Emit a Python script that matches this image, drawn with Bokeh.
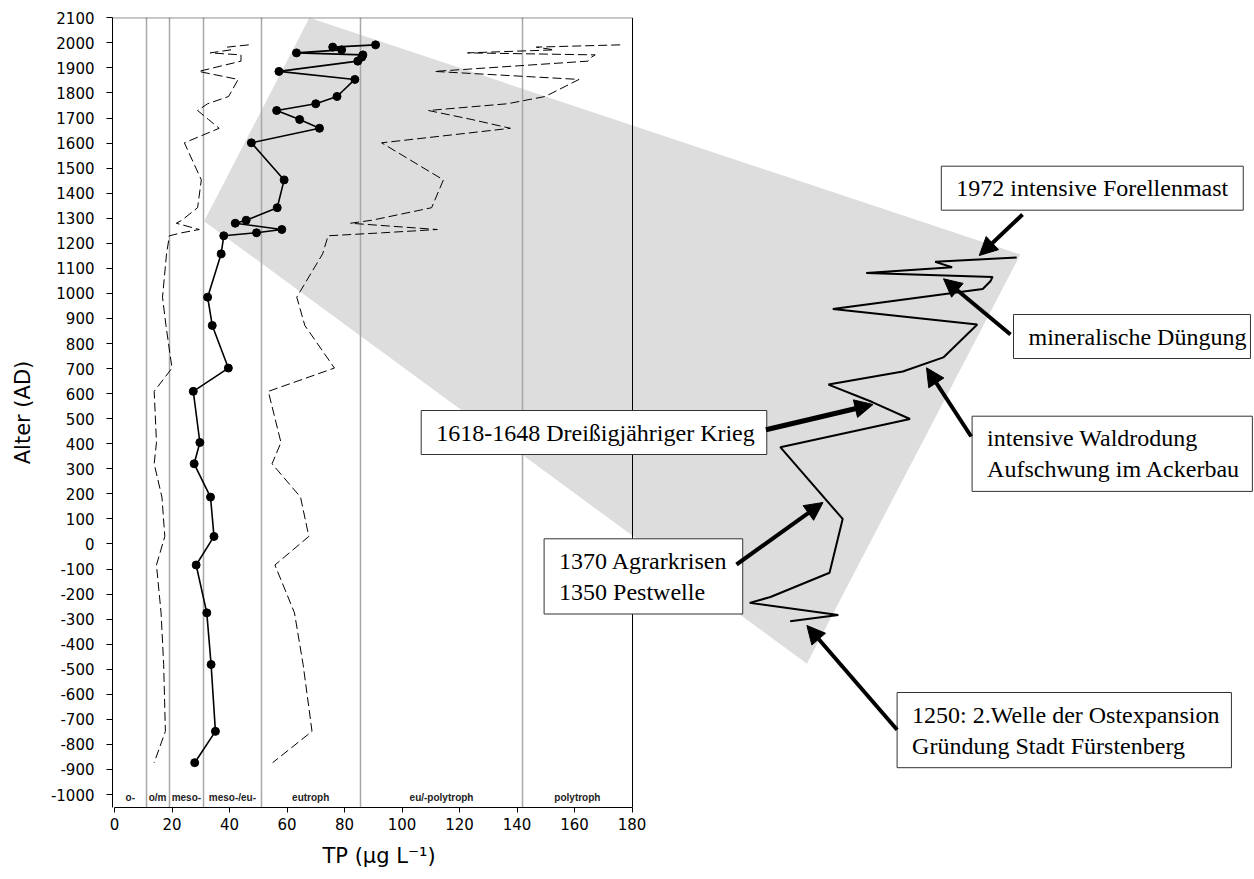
from bokeh.plotting import figure
from bokeh.models import Range1d, FixedTicker, Label, Arrow, NormalHead, PrintfTickFormatter
from bokeh.core.properties import value
from bokeh.embed import file_html
from bokeh.resources import INLINE

# ---------------- data ----------------
ages = [1992, 1983, 1972, 1960, 1952, 1943, 1927, 1886, 1854, 1786,
        1757, 1730, 1694, 1659, 1601, 1453, 1342, 1292, 1280, 1255,
        1242, 1230, 1158, 985, 872, 702, 609, 405, 320, 187,
        30, -84, -275, -481, -748, -873]
tp_mean = [90.8, 75.9, 79.0, 63.3, 86.4, 86.0, 84.6, 57.2, 83.6, 77.4,
           70.0, 56.4, 64.4, 71.3, 47.6, 59.0, 56.6, 45.8, 42.0, 58.2,
           49.4, 38.0, 37.1, 32.4, 34.0, 39.6, 27.4, 29.7, 27.7, 33.4,
           34.6, 28.4, 32.1, 33.6, 35.1, 27.9]
tp_low = [46.7, 39.2, 40.5, 33.3, 44.0, 44.0, 44.0, 29.3, 43.0, 39.7,
          32.4, 28.9, 32.7, 36.4, 24.3, 30.2, 28.9, 23.4, 21.5, 29.5,
          23.4, 19.1, 18.1, 16.7, 17.9, 20.0, 13.8, 14.6, 13.8, 16.5,
          17.5, 14.6, 16.2, 17.1, 17.7, 13.8]
tp_high = [175.9, 146.7, 152.9, 122.8, 167.2, 165.9, 164.7, 111.3, 161.6, 149.8,
           136.7, 109.2, 124.3, 137.7, 92.9, 114.4, 110.3, 89.5, 82.1, 112.3,
           93.3, 74.3, 72.4, 63.4, 66.2, 76.5, 53.5, 57.9, 54.8, 64.7,
           67.6, 55.8, 62.6, 65.6, 68.7, 55.0]
trophic_bounds = [11, 19, 31, 51, 85.5, 142]
trophic_labels = ["o-", "o/m", "meso-", "meso-/eu-", "eutroph", "eu/-polytroph", "polytroph"]
x_ticks = [0, 20, 40, 60, 80, 100, 120, 140, 160, 180]
y_ticks = list(range(-1000, 2101, 100))
inset_first_age = 1242
x_title = "TP (µg L\u207b\u00b9)"
y_title = "Alter (AD)"
events = ["1972 intensive Forellenmast",
          "mineralische Düngung",
          "intensive Waldrodung\nAufschwung im Ackerbau",
          "1618-1648 Dreißigjähriger Krieg",
          "1370 Agrarkrisen\n1350 Pestwelle",
          "1250: 2.Welle der Ostexpansion\nGründung Stadt Fürstenberg"]

# ---------------- layout ----------------
W, H = 1254, 879
ML, MT, MB = 112, 17, 72
XS = 2.875          # px per TP unit
YS = 0.25055        # px per year
X0 = -2 / XS
Y1 = 2100 + 0.3 / YS
X_MAX = 180
frame_w = W - ML
frame_h = H - MT - MB


def pos(X, Y):
    """reference pixel -> data coordinates"""
    return X0 + (X - ML) / XS, Y1 - (Y - MT) / YS


p = figure(width=W, height=H, output_backend="svg", toolbar_location=None,
           x_range=Range1d(X0, X0 + frame_w / XS),
           y_range=Range1d(Y1 - frame_h / YS, Y1))
p.min_border = 0
p.min_border_left = ML
p.min_border_top = MT
p.min_border_bottom = MB
p.min_border_right = 0
p.xgrid.visible = False
p.ygrid.visible = False
p.outline_line_color = None
p.background_fill_color = "white"

# x-axis title as a below-title, centred under the 0-180 axis
p.title_location = "below"
p.title.text = x_title
p.title.align = "left"
p.title.offset = 210
p.title.standoff = 18
p.title.text_font = "DejaVu Sans"
p.title.text_font_size = "21px"
p.title.text_font_style = "normal"
p.title.text_color = "black"

# magnifier polygon
poly = [pos(308.9, 17.3), pos(1019.8, 254), pos(806.4, 663.3), pos(203.6, 220.7)]
p.patch([q[0] for q in poly], [q[1] for q in poly], fill_color="#dddddd", line_color=None)

# trophic class boundaries and frame
p.vspan(x=trophic_bounds, line_color="#a8a8a8", line_width=1.5)
p.vspan(x=[X_MAX], line_color="black", line_width=1)
p.segment(x0=[X0], y0=[2100], x1=[X_MAX], y1=[2100], line_color="#555555", line_width=1)

# dashed bounds
p.line(tp_low, ages, line_color="black", line_width=1, line_dash="9 4")
p.line(tp_high, ages, line_color="black", line_width=1, line_dash="9 4")
# main series
p.line(tp_mean, ages, line_color="black", line_width=1.6)
p.scatter(tp_mean, ages, size=8, fill_color="black", line_color="black")

# magnified inset copy of the recent part of the series
IX0, ISX, IY0, ISY = 141.0, 1.903, 1143.3, 1.936
ins = [(IX0 + ISX * t, IY0 - ISY * (ages[0] - a)) for t, a in zip(tp_mean, ages) if a >= inset_first_age]
p.line([q[0] for q in ins], [q[1] for q in ins], line_color="black", line_width=2)

# trophic class labels
edges = [0] + trophic_bounds + [X_MAX]
mids = [(edges[i] + edges[i + 1]) / 2 for i in range(len(trophic_labels))]
label_y = pos(0, 797)[1]
p.text(x=mids, y=[label_y] * len(mids), text=trophic_labels,
       text_font=value("Liberation Sans"), text_font_style="bold", text_font_size="10px",
       text_color="#222222", text_align="center", text_baseline="middle")

# axes
for ax in p.xaxis:
    ax.ticker = FixedTicker(ticks=x_ticks)
    ax.bounds = (0, X_MAX)
    ax.major_tick_out = 5
    ax.major_tick_in = 0
    ax.minor_tick_out = 0
    ax.minor_tick_in = 0
    ax.major_label_standoff = 5
for ax in p.yaxis:
    ax.ticker = FixedTicker(ticks=y_ticks)
    ax.formatter = PrintfTickFormatter(format="%d")
    ax.axis_label = y_title
    ax.major_tick_out = 6
    ax.major_tick_in = 0
    ax.minor_tick_out = 0
    ax.minor_tick_in = 0
    ax.major_label_standoff = 12
    ax.axis_label_standoff = 13
for ax in p.xaxis + p.yaxis:
    ax.axis_line_color = "black"
    ax.major_tick_line_color = "black"
    ax.major_label_text_font = "DejaVu Sans"
    ax.major_label_text_font_size = "15px"
    ax.major_label_text_color = "black"
    ax.axis_label_text_font = "DejaVu Sans"
    ax.axis_label_text_font_size = "21px"
    ax.axis_label_text_font_style = "normal"
    ax.axis_label_text_color = "black"

# event boxes (top-left corners and right padding, reference pixels)
box_pos = [(940.8, 165.7, 15), (1013, 314, 4), (971.6, 415.7, 12), (420.7, 410, 12),
           (543.6, 538.3, 15), (896.6, 692, 12)]
for txt, (bx, by, pr) in zip(events, box_pos):
    x, y = pos(bx, by)
    p.add_layout(Label(x=x, y=y, text=txt, anchor="top_left",
                       text_font="Liberation Serif", text_font_size="24px", text_color="black",
                       text_line_height=1.2,
                       background_fill_color="white", border_line_color="#333333",
                       border_line_width=1, padding=dict(left=15, right=pr, top=9, bottom=9)))

# arrows (start -> tip, reference pixels)
arrow_pos = [((1022, 214), (978.8, 255), 4),
             ((1010, 334), (943, 278.3), 4),
             ((970.7, 436), (926, 367.3), 4),
             ((765.4, 429.3), (872.5, 404), 5),
             ((736, 564), (822.5, 502), 4),
             ((896.6, 729.3), (806.4, 625), 4)]
for (s, e, lw) in arrow_pos:
    xs, ys = pos(*s)
    xe, ye = pos(*e)
    p.add_layout(Arrow(x_start=xs, y_start=ys, x_end=xe, y_end=ye, line_width=lw, line_color="black",
                       end=NormalHead(size=18, fill_color="black", line_color="black", line_width=1)))

open("out.html", "w").write(file_html(p, INLINE))
